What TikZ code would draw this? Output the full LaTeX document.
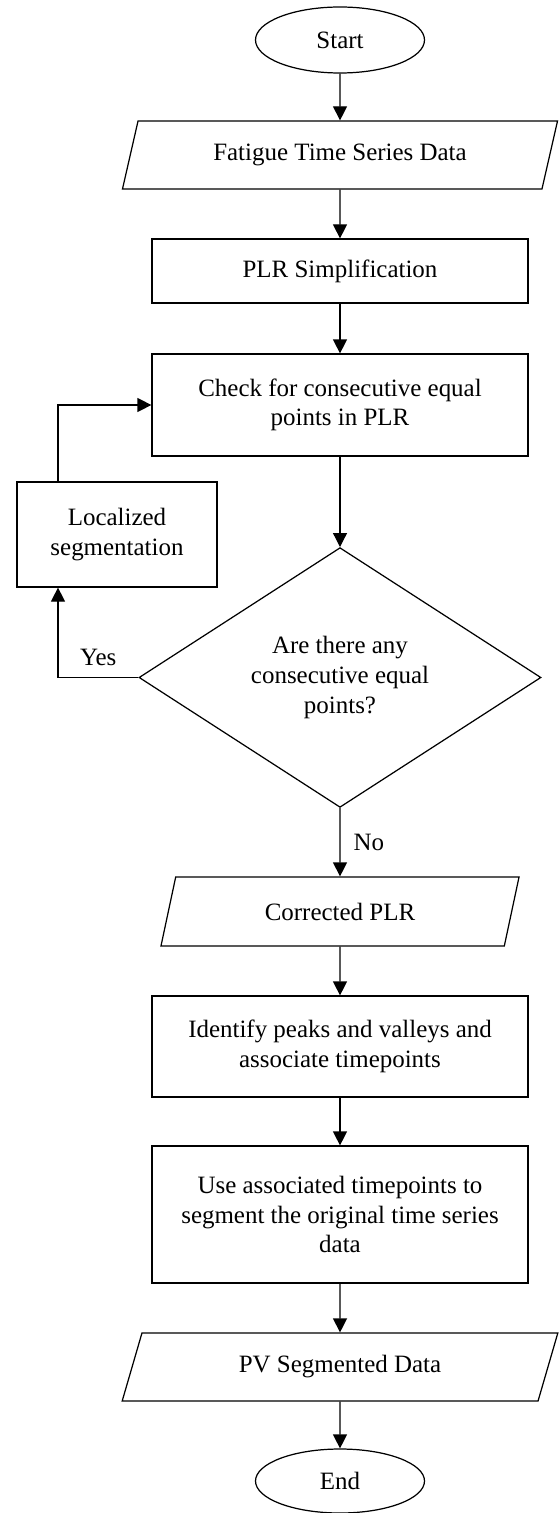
\documentclass[tikz,border=0pt]{standalone}
\usepackage{fontspec}
\setmainfont{Liberation Serif}
\usetikzlibrary{positioning,shapes.geometric,arrows.meta}

\tikzset{
  base/.style={draw, line width=0.7pt, align=center, inner sep=0pt},
  term/.style={base, ellipse, minimum width=3.38cm, minimum height=1.32cm},
  io/.style={base, trapezium, trapezium left angle=66, trapezium right angle=114,
    trapezium stretches=true, minimum width=8.72cm, minimum height=1.36cm},
  proc/.style={base, rectangle, minimum width=7.52cm},
  decision/.style={base, diamond, minimum width=8.04cm, minimum height=4.62cm},
  arr/.style={line width=0.7pt, -{Triangle[length=0.28cm,width=0.28cm]}}
}

\begin{document}
\begin{tikzpicture}[font=\fontsize{14.2}{16.8}\selectfont]
  \useasboundingbox (0,0) rectangle (11.16,-30.26);

  % Main column
  \node[term] (start) at (6.8,-0.8) {Start};
  \node[io] (data) at (6.8,-3.1) {Fatigue Time Series Data};
  \node[proc, minimum height=1.28cm] (plr) at (6.8,-5.42) {PLR Simplification};
  \node[proc, minimum height=2.04cm] (check) at (6.8,-8.1) {Check for consecutive equal\\points in PLR};
  \node[decision] (decide) at (6.8,-13.55) {Are there any\\consecutive equal\\points?};
  \node[io, minimum width=7.18cm, minimum height=1.38cm,
    trapezium left angle=69, trapezium right angle=111] (corr) at (6.8,-18.23) {Corrected PLR};
  \node[proc, minimum height=2.02cm] (ident) at (6.8,-20.93) {Identify peaks and valleys and\\associate timepoints};
  \node[proc, minimum height=2.74cm] (segm) at (6.8,-24.29) {Use associated timepoints to\\segment the original time series\\data};
  \node[io] (pvdata) at (6.8,-27.34) {PV Segmented Data};
  \node[term, minimum height=1.28cm] (stop) at (6.8,-29.62) {End};

  % Loop back
  \node[base, minimum width=4cm, minimum height=2.1cm] (local) at (2.34,-10.69) {Localized\\segmentation};
  \coordinate (bend) at (1.16,-13.55);

  % Arrows
  \draw[arr] (start) -- (data);
  \draw[arr] (data) -- (plr);
  \draw[arr] (plr) -- (check);
  \draw[arr] (check) -- (decide);
  \draw[arr] (decide) -- node[right=4pt] {No} (corr);
  \draw[arr] (corr) -- (ident);
  \draw[arr] (ident) -- (segm);
  \draw[arr] (segm) -- (pvdata);
  \draw[arr] (pvdata) -- (stop);
  \draw[arr] (decide.west) -- node[above=3pt] {Yes} (bend) -- (local.south -| bend);
  \draw[arr] (local.north -| bend) |- (check.west);
\end{tikzpicture}
\end{document}
